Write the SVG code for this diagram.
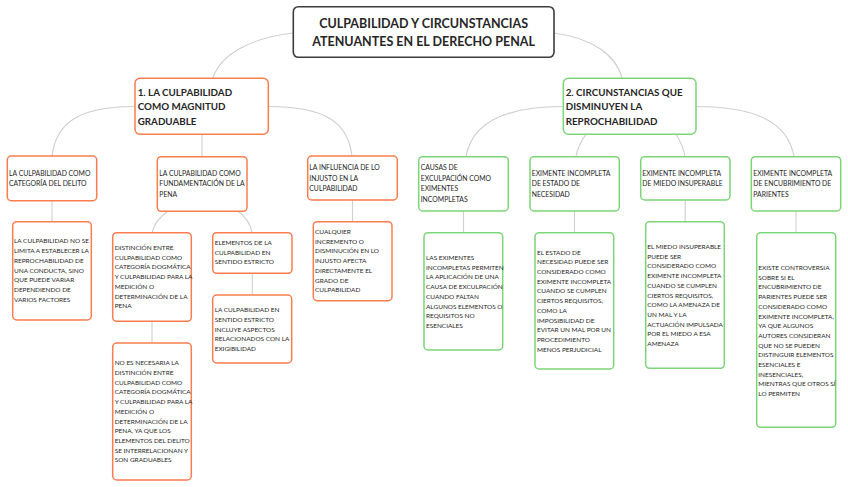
<svg xmlns="http://www.w3.org/2000/svg" width="848" height="487" viewBox="0 0 848 487">
<style>
.bg{fill:#ffffff}
.root{fill:#ffffff;stroke:#3c3c3c;stroke-width:1.6}
.or{fill:#ffffff;stroke:#fa7d4d;stroke-width:1.5}
.gr{fill:#ffffff;stroke:#7cd677;stroke-width:1.5}
.con{fill:none;stroke:#cfcfcf;stroke-width:1.1}
text{font-family:Lato,"Liberation Sans",sans-serif;fill:#262626}
.t0{font-size:12.5px;font-weight:bold;text-anchor:middle}
.t1{font-size:9.8px;font-weight:bold}
.t2{font-size:6.85px}
.t3{font-size:6.45px}
</style>
<rect class="bg" x="0" y="0" width="848" height="487"/>
<g id="connectors">
<path class="con" d="M293,33 C250,38 220,55 213,78"/>
<path class="con" d="M554,33 C592,38 616,55 622,78"/>
<path class="con" d="M135,106.5 C80,106.5 56,122 52,156"/>
<path class="con" d="M202,134 L202,156"/>
<path class="con" d="M268,106.5 C325,106.5 348,122 352,156"/>
<path class="con" d="M52,200.7 L52,221.7"/>
<path class="con" d="M168,211.3 Q155,220 152,232.7"/>
<path class="con" d="M238,211.3 Q250,220 252,232.7"/>
<path class="con" d="M352.5,200 L352.5,221.7"/>
<path class="con" d="M152,321.3 L152,343"/>
<path class="con" d="M252.3,273.3 L252.3,295"/>
<path class="con" d="M563,106.5 C505,106.5 472,122 466,156.7"/>
<path class="con" d="M586,134.3 Q578,145 576,156.7"/>
<path class="con" d="M676,134.3 Q683,145 685,156.7"/>
<path class="con" d="M696,106.5 C755,106.5 788,122 794,156.7"/>
<path class="con" d="M463.5,211 L463.5,232.7"/>
<path class="con" d="M574.5,211 L574.5,232.7"/>
<path class="con" d="M685.2,200 L685.2,221.7"/>
<path class="con" d="M796,211 L796,232.7"/>
</g>
<g id="root">
<rect class="root" x="293.3" y="6.7" width="260.7" height="50.6" rx="5"/>
<text class="t0"><tspan x="423.6" y="27.8">CULPABILIDAD Y CIRCUNSTANCIAS</tspan><tspan x="423.6" y="46.2">ATENUANTES EN EL DERECHO PENAL</tspan></text>
</g>
<g id="n1">
<rect class="or" x="135" y="78.3" width="133.3" height="56" rx="5"/>
<text class="t1"><tspan x="137.7" y="95.6">1. LA CULPABILIDAD</tspan><tspan x="137.7" y="110.2">COMO MAGNITUD</tspan><tspan x="137.7" y="124.9">GRADUABLE</tspan></text>
</g>
<g id="n2">
<rect class="gr" x="563.3" y="78.3" width="132.7" height="56" rx="5"/>
<text class="t1"><tspan x="565.7" y="95.6">2. CIRCUNSTANCIAS QUE</tspan><tspan x="565.7" y="110.2">DISMINUYEN LA</tspan><tspan x="565.7" y="124.9">REPROCHABILIDAD</tspan></text>
</g>
<g id="n1a">
<rect class="or" x="7.3" y="156" width="89.4" height="44.7" rx="4"/>
<text class="t2"><tspan x="9" y="175.8">LA CULPABILIDAD COMO</tspan><tspan x="9" y="186.2">CATEGORÍA DEL DELITO</tspan></text>
</g>
<g id="n1a1">
<rect class="or" x="12.7" y="221.7" width="78.6" height="98.3" rx="4"/>
<text class="t3"><tspan x="14" y="243.3">LA CULPABILIDAD NO SE</tspan><tspan x="14" y="253.1">LIMITA A ESTABLECER LA</tspan><tspan x="14" y="262.8">REPROCHABILIDAD DE</tspan><tspan x="14" y="272.6">UNA CONDUCTA, SINO</tspan><tspan x="14" y="282.3">QUE PUEDE VARIAR</tspan><tspan x="14" y="292.1">DEPENDIENDO DE</tspan><tspan x="14" y="301.8">VARIOS FACTORES</tspan></text>
</g>
<g id="n1b">
<rect class="or" x="157.3" y="156.7" width="89.7" height="54.6" rx="4"/>
<text class="t2"><tspan x="159.3" y="175.8">LA CULPABILIDAD COMO</tspan><tspan x="159.3" y="186.2">FUNDAMENTACIÓN DE LA</tspan><tspan x="159.3" y="196.5">PENA</tspan></text>
</g>
<g id="n1b1">
<rect class="or" x="112.7" y="232.7" width="78.6" height="88.6" rx="4"/>
<text class="t3"><tspan x="114.7" y="250">DISTINCIÓN ENTRE</tspan><tspan x="114.7" y="259.7">CULPABILIDAD COMO</tspan><tspan x="114.7" y="269.4">CATEGORÍA DOGMÁTICA</tspan><tspan x="114.7" y="279.1">Y CULPABILIDAD PARA LA</tspan><tspan x="114.7" y="288.8">MEDICIÓN O</tspan><tspan x="114.7" y="298.5">DETERMINACIÓN DE LA</tspan><tspan x="114.7" y="308.2">PENA</tspan></text>
</g>
<g id="n1b1a">
<rect class="or" x="112.7" y="343" width="78.6" height="137" rx="4"/>
<text class="t3"><tspan x="114.7" y="365.3">NO ES NECESARIA LA</tspan><tspan x="114.7" y="375">DISTINCIÓN ENTRE</tspan><tspan x="114.7" y="384.7">CULPABILIDAD COMO</tspan><tspan x="114.7" y="394.4">CATEGORÍA DOGMÁTICA</tspan><tspan x="114.7" y="404.1">Y CULPABILIDAD PARA LA</tspan><tspan x="114.7" y="413.8">MEDICIÓN O</tspan><tspan x="114.7" y="423.5">DETERMINACIÓN DE LA</tspan><tspan x="114.7" y="433.2">PENA, YA QUE LOS</tspan><tspan x="114.7" y="442.9">ELEMENTOS DEL DELITO</tspan><tspan x="114.7" y="452.6">SE INTERRELACIONAN Y</tspan><tspan x="114.7" y="462.3">SON GRADUABLES</tspan></text>
</g>
<g id="n1b2">
<rect class="or" x="212.7" y="232.7" width="79.3" height="40.6" rx="4"/>
<text class="t3"><tspan x="214.7" y="245">ELEMENTOS DE LA</tspan><tspan x="214.7" y="254.7">CULPABILIDAD EN</tspan><tspan x="214.7" y="264.3">SENTIDO ESTRICTO</tspan></text>
</g>
<g id="n1b2a">
<rect class="or" x="212.7" y="295" width="79" height="68" rx="4"/>
<text class="t3"><tspan x="214.7" y="312.3">LA CULPABILIDAD EN</tspan><tspan x="214.7" y="322">SENTIDO ESTRICTO</tspan><tspan x="214.7" y="331.7">INCLUYE ASPECTOS</tspan><tspan x="214.7" y="341.4">RELACIONADOS CON LA</tspan><tspan x="214.7" y="351.1">EXIGIBILIDAD</tspan></text>
</g>
<g id="n1c">
<rect class="or" x="307.7" y="156" width="89.6" height="44" rx="4"/>
<text class="t2"><tspan x="309.3" y="170.2">LA INFLUENCIA DE LO</tspan><tspan x="309.3" y="180.8">INJUSTO EN LA</tspan><tspan x="309.3" y="191.4">CULPABILIDAD</tspan></text>
</g>
<g id="n1c1">
<rect class="or" x="313.3" y="221.7" width="78.7" height="79" rx="4"/>
<text class="t3"><tspan x="315" y="234">CUALQUIER</tspan><tspan x="315" y="243.7">INCREMENTO O</tspan><tspan x="315" y="253.4">DISMINUCIÓN EN LO</tspan><tspan x="315" y="263.1">INJUSTO AFECTA</tspan><tspan x="315" y="272.8">DIRECTAMENTE EL</tspan><tspan x="315" y="282.5">GRADO DE</tspan><tspan x="315" y="292.2">CULPABILIDAD</tspan></text>
</g>
<g id="n2a">
<rect class="gr" x="418.7" y="156.7" width="89.6" height="54.3" rx="4"/>
<text class="t2"><tspan x="420.7" y="170.2">CAUSAS DE</tspan><tspan x="420.7" y="180.8">EXCULPACIÓN COMO</tspan><tspan x="420.7" y="191.4">EXIMENTES</tspan><tspan x="420.7" y="202">INCOMPLETAS</tspan></text>
</g>
<g id="n2a1">
<rect class="gr" x="424" y="232.7" width="78.7" height="117.3" rx="4"/>
<text class="t3"><tspan x="426" y="260">LAS EXIMENTES</tspan><tspan x="426" y="269.7">INCOMPLETAS PERMITEN</tspan><tspan x="426" y="279.4">LA APLICACIÓN DE UNA</tspan><tspan x="426" y="289.1">CAUSA DE EXCULPACIÓN</tspan><tspan x="426" y="298.8">CUANDO FALTAN</tspan><tspan x="426" y="308.5">ALGUNOS ELEMENTOS O</tspan><tspan x="426" y="318.2">REQUISITOS NO</tspan><tspan x="426" y="327.9">ESENCIALES</tspan></text>
</g>
<g id="n2b">
<rect class="gr" x="530" y="156.7" width="89.3" height="54.3" rx="4"/>
<text class="t2"><tspan x="531.7" y="175.8">EXIMENTE INCOMPLETA</tspan><tspan x="531.7" y="186.2">DE ESTADO DE</tspan><tspan x="531.7" y="196.5">NECESIDAD</tspan></text>
</g>
<g id="n2b1">
<rect class="gr" x="535" y="232.7" width="78.7" height="136.3" rx="4"/>
<text class="t3"><tspan x="537" y="254.6">EL ESTADO DE</tspan><tspan x="537" y="264.3">NECESIDAD PUEDE SER</tspan><tspan x="537" y="274">CONSIDERADO COMO</tspan><tspan x="537" y="283.7">EXIMENTE INCOMPLETA</tspan><tspan x="537" y="293.4">CUANDO SE CUMPLEN</tspan><tspan x="537" y="303.1">CIERTOS REQUISITOS,</tspan><tspan x="537" y="312.8">COMO LA</tspan><tspan x="537" y="322.5">IMPOSIBILIDAD DE</tspan><tspan x="537" y="332.2">EVITAR UN MAL POR UN</tspan><tspan x="537" y="341.9">PROCEDIMIENTO</tspan><tspan x="537" y="351.6">MENOS PERJUDICIAL</tspan></text>
</g>
<g id="n2c">
<rect class="gr" x="640.7" y="156.7" width="89.3" height="43.3" rx="4"/>
<text class="t2"><tspan x="642.3" y="175.8">EXIMENTE INCOMPLETA</tspan><tspan x="642.3" y="186.2">DE MIEDO INSUPERABLE</tspan></text>
</g>
<g id="n2c1">
<rect class="gr" x="645.7" y="221.7" width="78.6" height="146.6" rx="4"/>
<text class="t3"><tspan x="647.3" y="249">EL MIEDO INSUPERABLE</tspan><tspan x="647.3" y="258.7">PUEDE SER</tspan><tspan x="647.3" y="268.4">CONSIDERADO COMO</tspan><tspan x="647.3" y="278.1">EXIMENTE INCOMPLETA</tspan><tspan x="647.3" y="287.8">CUANDO SE CUMPLEN</tspan><tspan x="647.3" y="297.5">CIERTOS REQUISITOS,</tspan><tspan x="647.3" y="307.2">COMO LA AMENAZA DE</tspan><tspan x="647.3" y="316.9">UN MAL Y LA</tspan><tspan x="647.3" y="326.6">ACTUACIÓN IMPULSADA</tspan><tspan x="647.3" y="336.3">POR EL MIEDO A ESA</tspan><tspan x="647.3" y="346">AMENAZA</tspan></text>
</g>
<g id="n2d">
<rect class="gr" x="751.3" y="156.7" width="89.4" height="54.3" rx="4"/>
<text class="t2"><tspan x="753.3" y="175.8">EXIMENTE INCOMPLETA</tspan><tspan x="753.3" y="186.2">DE ENCUBRIMIENTO DE</tspan><tspan x="753.3" y="196.5">PARIENTES</tspan></text>
</g>
<g id="n2d1">
<rect class="gr" x="756.7" y="232.7" width="79" height="194.6" rx="4"/>
<text class="t3"><tspan x="758.3" y="270">EXISTE CONTROVERSIA</tspan><tspan x="758.3" y="279.7">SOBRE SI EL</tspan><tspan x="758.3" y="289.4">ENCUBRIMIENTO DE</tspan><tspan x="758.3" y="299.1">PARIENTES PUEDE SER</tspan><tspan x="758.3" y="308.8">CONSIDERADO COMO</tspan><tspan x="758.3" y="318.5">EXIMENTE INCOMPLETA,</tspan><tspan x="758.3" y="328.2">YA QUE ALGUNOS</tspan><tspan x="758.3" y="337.9">AUTORES CONSIDERAN</tspan><tspan x="758.3" y="347.6">QUE NO SE PUEDEN</tspan><tspan x="758.3" y="357.3">DISTINGUIR ELEMENTOS</tspan><tspan x="758.3" y="367">ESENCIALES E</tspan><tspan x="758.3" y="376.7">INESENCIALES,</tspan><tspan x="758.3" y="386.4">MIENTRAS QUE OTROS SÍ</tspan><tspan x="758.3" y="396.1">LO PERMITEN</tspan></text>
</g>
</svg>
